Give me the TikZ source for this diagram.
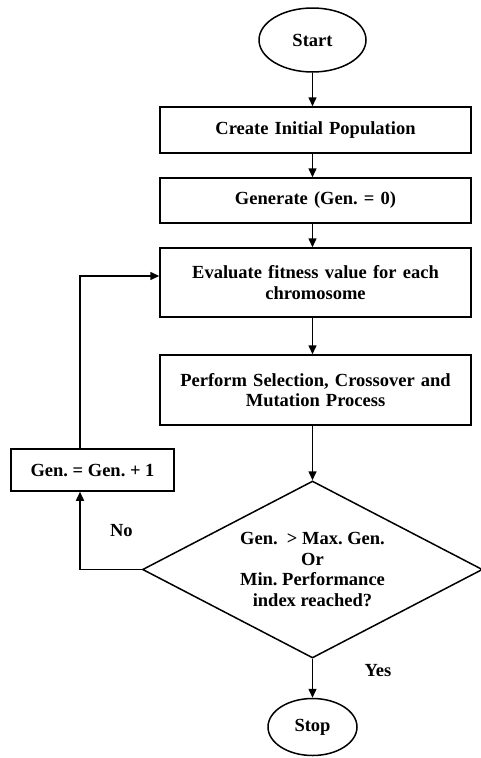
\documentclass[tikz,border=0pt]{standalone}
\usepackage{fontspec}
\setmainfont{Liberation Serif}
\usetikzlibrary{arrows.meta,positioning,shapes.geometric}

\begin{document}
\frenchspacing
\begin{tikzpicture}[
  x=1pt, y=-1pt,
  font=\fontsize{18.5}{20.5}\selectfont\bfseries,
  >={Triangle[length=9pt,width=8pt]},
  line width=1.5pt,
  % terminals
  term/.style={draw, ellipse, inner sep=0pt},
  % process boxes
  proc/.style={draw, rectangle, minimum width=311pt, text width=300pt,
               align=center, inner sep=0pt},
  % decision
  decide/.style={draw, diamond, aspect=2, inner sep=0pt, align=center,
                 minimum width=340pt, minimum height=177pt},
  % flow arrows
  flow/.style={->},
]

\useasboundingbox (0,0) rectangle (481,758);

% ── Column X positions ─────────────────────────────────────────────
\def\xC{315.5}  % boxes
\def\xA{312.5}  % arrows, terminals, decision
\def\xL{92.5}   % loop box

% ── Terminals ──────────────────────────────────────────────────────
\node[term, minimum width=107pt, minimum height=64pt] (start) at (\xA,40) {Start};
\node[term, minimum width=89pt, minimum height=57pt] (stop) at (\xA,727) {Stop};

% ── Process boxes ─────────────────────────────────────────────────
\node[proc, minimum height=46pt] (init) at (\xC,130) {Create Initial Population};
\node[proc, minimum height=45pt] (gen0) at (\xC,200.5) {Generate (Gen. = 0)};
\node[proc, minimum height=69pt] (eval) at (\xC,282.5)
  {Evaluate fitness value for each\\chromosome};
\node[proc, minimum height=70pt] (ops) at (\xC,390)
  {Perform Selection, Crossover and\\Mutation Process};

% ── Decision ──────────────────────────────────────────────────────
\node[decide] (check) at (\xA,569.5)
  {Gen.\ \ > Max. Gen.\\Or\\Min. Performance\\index reached?};

% ── Counter box ───────────────────────────────────────────────────
\node[draw, minimum width=163pt, minimum height=42pt, inner sep=0pt]
  (incr) at (\xL,470) {Gen. = Gen. + 1};

% ── Main flow ─────────────────────────────────────────────────────
\draw[flow] (start) -- (start |- init.north);
\draw[flow] (init.south -| start) -- (gen0.north -| start);
\draw[flow] (gen0.south -| start) -- (eval.north -| start);
\draw[flow] (eval.south -| start) -- (ops.north -| start);
\draw[flow] (ops.south -| check) -- (check);
\draw[flow] (check) -- node[pos=0.3, right=48pt] (yes) {Yes} (stop);

% ── Loop back ─────────────────────────────────────────────────────
\draw[flow] (check.west) -| node[pos=0.75, right=26pt] (no) {No}
  ([xshift=-12.5pt]incr.south);
\draw[flow] ([xshift=-12.5pt]incr.north) |- ([yshift=6.5pt]eval.west);

\end{tikzpicture}
\end{document}
